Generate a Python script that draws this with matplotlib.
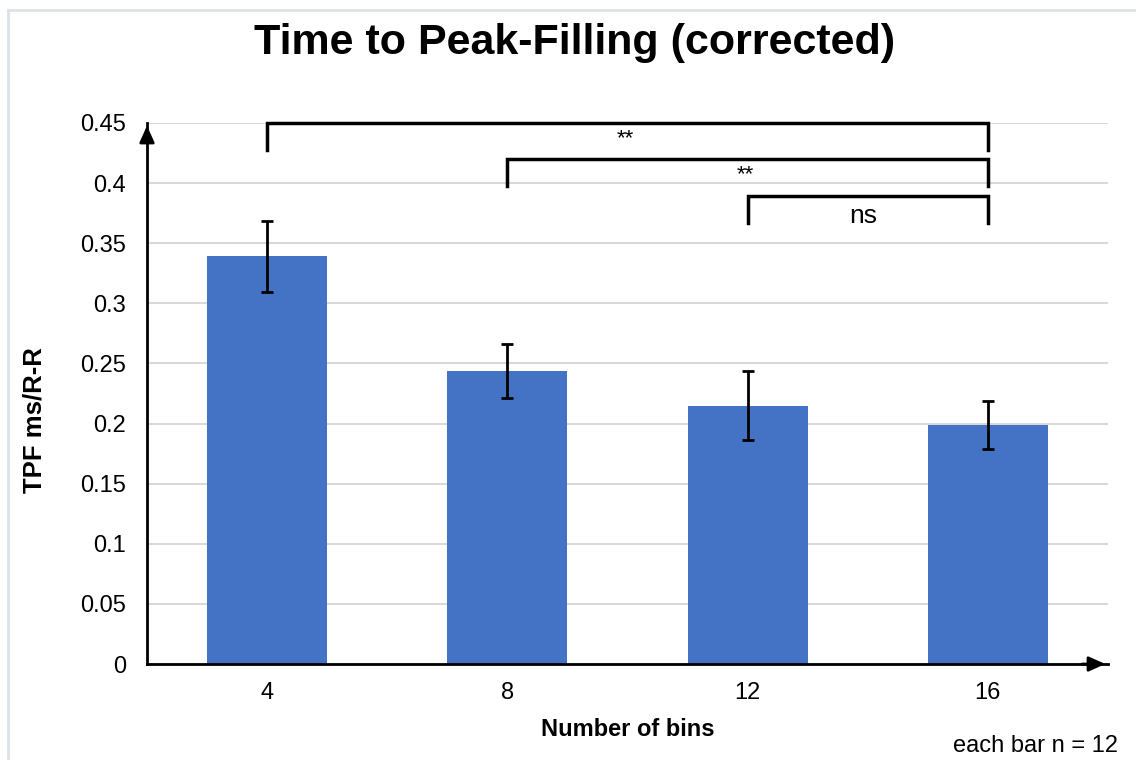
import numpy as np
import matplotlib.pyplot as plt
from matplotlib.patches import Rectangle

plt.rcParams['font.family'] = ['Liberation Sans', 'DejaVu Sans']

bins = ['4', '8', '12', '16']
tpf_mean = [0.339, 0.244, 0.215, 0.199]
tpf_err = [0.0295, 0.0225, 0.029, 0.020]

# significance brackets: (from bar, to bar, label)
sig_pairs = [(0, 3), (1, 3), (2, 3)]
sig_labels = ['**', '**', 'ns']

fig = plt.figure(figsize=(11.36, 7.6), dpi=100)
ax = fig.add_axes([0.1294, 0.1263, 0.9754 - 0.1294, 0.8382 - 0.1263])

x = np.arange(len(bins))
ax.bar(x, tpf_mean, width=0.5, color='#4472C4', zorder=2)
ax.errorbar(x, tpf_mean, yerr=tpf_err, fmt='none', ecolor='black',
            elinewidth=2, capsize=4.3, capthick=2, zorder=3)

ax.set_xlim(-0.5, 3.5)
ax.set_ylim(0, 0.45)
ax.set_yticks(np.arange(0, 0.451, 0.05))
ax.set_yticklabels(['0', '0.05', '0.1', '0.15', '0.2', '0.25', '0.3', '0.35', '0.4', '0.45'])
ax.set_xticks(x)
ax.set_xticklabels(bins)
ax.tick_params(axis='both', length=0, labelsize=17)
ax.tick_params(axis='y', pad=15)
ax.tick_params(axis='x', pad=13)
ax.grid(axis='y', color='#D9D9D9', linewidth=1.5, zorder=0)
ax.set_axisbelow(True)

for s in ['top', 'right']:
    ax.spines[s].set_visible(False)
for s in ['left', 'bottom']:
    ax.spines[s].set_linewidth(2)
    ax.spines[s].set_zorder(4)

# arrow heads on the axes
ax.annotate('', xy=(0, 1), xytext=(0, 0.96), xycoords='axes fraction',
            arrowprops=dict(arrowstyle='-|>,head_length=1.0,head_width=0.45',
                            color='black', lw=2), annotation_clip=False)
ax.annotate('', xy=(1, 0), xytext=(0.97, 0), xycoords='axes fraction',
            arrowprops=dict(arrowstyle='-|>,head_length=1.0,head_width=0.45',
                            color='black', lw=2), annotation_clip=False)

# significance brackets
tops = [0.45, 0.42, 0.389]
drop = 0.0225
for (i, j), lab, top in zip(sig_pairs, sig_labels, tops):
    ax.plot([i, i, j, j], [top - drop, top, top, top - drop], color='black',
            lw=2.5, clip_on=False, zorder=5, solid_joinstyle='miter')
    if lab == 'ns':
        ax.text((i + j) / 2 - 0.02, top - 0.006, lab, ha='center', va='top', fontsize=19)
    else:
        ax.text((i + j) / 2 - 0.01, top - 0.004, lab, ha='center', va='top', fontsize=16)

ax.set_xlabel('Number of bins', fontsize=17, fontweight='bold', labelpad=10)
fig.text(35 / 1136, (760 - 493) / 760, 'TPF ms/R-R', rotation=90, ha='center',
         va='bottom', fontsize=18.5, fontweight='bold')

fig.text(0.506, 0.943, 'Time to Peak-Filling (corrected)', ha='center', va='center',
         fontsize=31, fontweight='bold')
fig.text(0.984, 0.018, 'each bar n = 12', ha='right', va='center', fontsize=17)

# light frame around the chart area
fig.patches.append(Rectangle((8 / 1136, -0.1), 1.2, 0.1 + 1 - 10 / 760,
                             transform=fig.transFigure, fill=False,
                             edgecolor='#DDE2E8', linewidth=2))

fig.savefig('out.png', dpi=100)
